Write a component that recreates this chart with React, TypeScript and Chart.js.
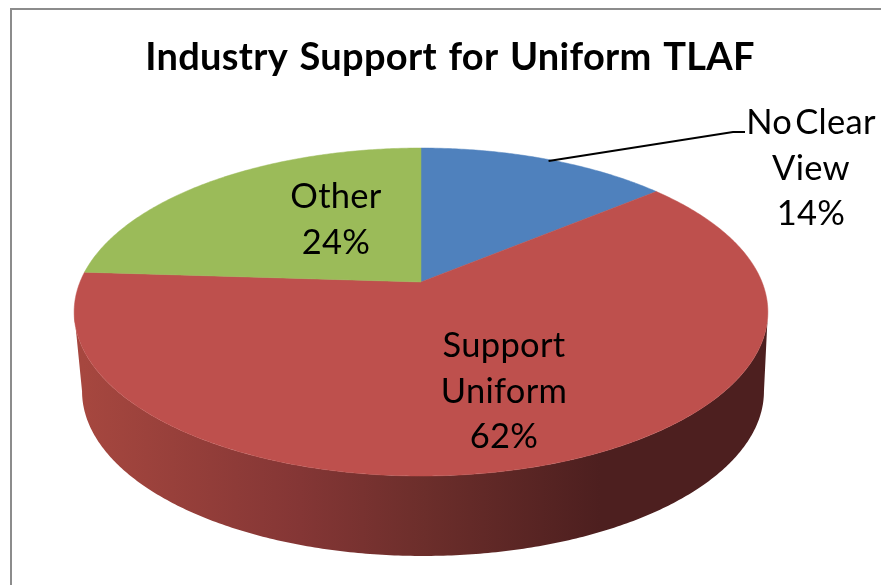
import React, { useEffect, useRef } from "react";
import { Chart, registerables } from "chart.js";

Chart.register(...registerables);

const chartTitle = "Industry Support for Uniform TLAF";
const categories = [["No Clear", "View"], ["Support", "Uniform"], ["Other"]];
const shares = [14, 62, 24];
const sliceColours = ["#4F81BD", "#BE504D", "#9BBB59"];

const FONT = "Lato, 'Open Sans', sans-serif";
const LABEL_SIZE = 34.5;
const LINE_HEIGHT = 45.5;

// Perspective of the tilted disc: centre on screen, horizontal and vertical scale, foreshortening.
const DISC = { cx: 421, cy: 282, sx: 341, sy: 158.5, tilt: 0.183 };
// Rim of the lower face, relative to the upper one.
const BASE = { scaleX: 0.983, scaleY: 1.005, drop: 79, cx: 423 };

// First baseline and centre of each label block.
const labelAnchors = [
  { x: 811, y: 134 },
  { x: 504, y: 357 },
  { x: 336, y: 208 },
];

function project(angle: number) {
  const u = Math.cos(angle);
  const v = Math.sin(angle);
  const w = 1 - DISC.tilt * v;
  return { x: (DISC.sx * u) / w, y: (DISC.sy * v) / w };
}

const topPoint = (angle: number) => {
  const p = project(angle);
  return { x: DISC.cx + p.x, y: DISC.cy + p.y };
};

const basePoint = (angle: number) => {
  const p = project(angle);
  return { x: BASE.cx + BASE.scaleX * p.x, y: DISC.cy + BASE.drop + BASE.scaleY * p.y };
};

function angleSteps(start: number, end: number) {
  const count = Math.max(2, Math.ceil(Math.abs(end - start) / 0.01));
  return Array.from({ length: count + 1 }, (_, i) => start + ((end - start) * i) / count);
}

const tiltedPie = {
  id: "tiltedPie",
  beforeDraw(chart: Chart) {
    const ctx = chart.ctx as any;
    ctx.save();
    ctx.strokeStyle = "#8C8C8C";
    ctx.lineWidth = 2;
    ctx.beginPath();
    ctx.moveTo(11, 585);
    ctx.lineTo(11, 9);
    ctx.lineTo(881, 9);
    ctx.stroke();
    ctx.restore();
    // The title is drawn next and picks up this spacing.
    ctx.letterSpacing = "0.3px";
    ctx.wordSpacing = "2px";
  },
  beforeDatasetsDraw(chart: Chart) {
    const ctx = chart.ctx as any;
    const arcs = chart.getDatasetMeta(0).data as any[];
    const frontStart = Math.asin(DISC.tilt);
    const frontEnd = Math.PI - frontStart;

    ctx.save();

    // Wall of the disc, for the part of each slice that faces the viewer.
    arcs.forEach((arc) => {
      const { startAngle, endAngle } = arc.getProps(["startAngle", "endAngle"], true);
      const a = Math.max(startAngle, frontStart);
      const b = Math.min(endAngle, frontEnd);
      if (b <= a) return;
      const wall = ctx.createLinearGradient(83, 0, 600, 0);
      wall.addColorStop(0, "#A6473F");
      wall.addColorStop(0.42, "#843635");
      wall.addColorStop(0.66, "#6C2E2B");
      wall.addColorStop(1, "#4D1F1F");
      ctx.fillStyle = wall;
      ctx.beginPath();
      angleSteps(a, b).forEach((t, i) => {
        const p = topPoint(t);
        if (i === 0) ctx.moveTo(p.x, p.y);
        else ctx.lineTo(p.x, p.y);
      });
      angleSteps(b, a).forEach((t) => {
        const p = basePoint(t);
        ctx.lineTo(p.x, p.y);
      });
      ctx.closePath();
      ctx.fill();
    });

    // Upper face of every slice.
    arcs.forEach((arc) => {
      const { startAngle, endAngle } = arc.getProps(["startAngle", "endAngle"], true);
      ctx.fillStyle = arc.options.backgroundColor;
      ctx.strokeStyle = arc.options.backgroundColor;
      ctx.lineWidth = 0.5;
      ctx.beginPath();
      ctx.moveTo(DISC.cx, DISC.cy);
      angleSteps(startAngle, endAngle).forEach((t) => {
        const p = topPoint(t);
        ctx.lineTo(p.x, p.y);
      });
      ctx.closePath();
      ctx.fill();
      ctx.stroke();
    });

    // Leader from the label outside the pie to the middle of its slice's rim.
    const first = arcs[0].getProps(["startAngle", "endAngle"], true);
    const rim = topPoint((first.startAngle + first.endAngle) / 2);
    ctx.strokeStyle = "#000000";
    ctx.lineWidth = 2;
    ctx.beginPath();
    ctx.moveTo(rim.x + 3, rim.y + 2);
    ctx.lineTo(733, 132);
    ctx.lineTo(745, 132);
    ctx.stroke();

    // Category and share labels.
    ctx.fillStyle = "#000000";
    ctx.font = `${LABEL_SIZE}px ${FONT}`;
    ctx.textAlign = "center";
    ctx.textBaseline = "alphabetic";
    ctx.letterSpacing = "0.3px";
    ctx.wordSpacing = "-6px";
    categories.forEach((lines, i) => {
      const block = [...lines, `${shares[i]}%`];
      block.forEach((line, row) => {
        ctx.fillText(line, labelAnchors[i].x, labelAnchors[i].y + row * LINE_HEIGHT);
      });
    });

    ctx.restore();
    ctx.letterSpacing = "0px";
    ctx.wordSpacing = "0px";
    return false;
  },
};

export default function App() {
  const canvasRef = useRef<HTMLCanvasElement>(null);

  useEffect(() => {
    const chart = new Chart(canvasRef.current!, {
      type: "pie",
      data: {
        labels: categories,
        datasets: [{ data: shares, backgroundColor: sliceColours, borderWidth: 0 }],
      },
      options: {
        responsive: false,
        animation: false,
        layout: { padding: { left: 19 } },
        plugins: {
          legend: { display: false },
          tooltip: { enabled: false },
          title: {
            display: true,
            text: chartTitle,
            color: "#000000",
            font: { family: FONT, size: 38, weight: "bold" },
            padding: { top: 35, bottom: 0 },
          },
        },
      },
      plugins: [tiltedPie],
    } as any);
    return () => chart.destroy();
  }, []);

  return (
    <div style={{ position: "fixed", inset: 0, background: "#FFFFFF" }}>
      <canvas ref={canvasRef} width={881} height={585} style={{ display: "block" }} />
    </div>
  );
}
